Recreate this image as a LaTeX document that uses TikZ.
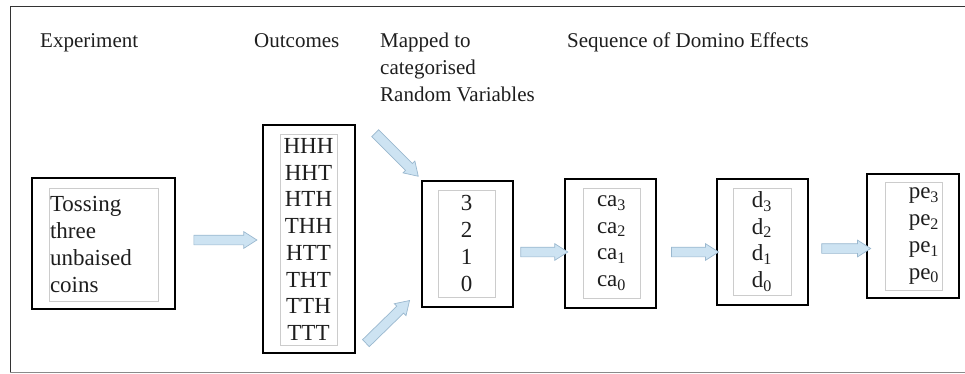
\documentclass[tikz,border=0pt]{standalone}
\usepackage{fontspec}
\setmainfont{Liberation Serif}
\usepackage{tikz}
\usetikzlibrary{arrows.meta,positioning,shapes.arrows,calc}
\usepackage{xcolor}
\definecolor{framegray}{HTML}{333333}
\definecolor{rulegray}{HTML}{8a8a8a}
\definecolor{innergray}{HTML}{cccccc}
\definecolor{arrowfill}{HTML}{cde3f2}
\definecolor{arrowedge}{HTML}{9ab8cf}
\definecolor{inkdark}{HTML}{1e1e1e}

\begin{document}
\begin{tikzpicture}[
  x=1pt,y=-1pt,
  heading/.style={anchor=base west,inner sep=0pt,align=left,text=inkdark,
    font=\fontsize{21}{27}\selectfont},
  outerbox/.style={rectangle,draw=black,line width=1.7pt,inner sep=0pt},
  innerbox/.style={rectangle,draw=innergray,line width=0.8pt,inner sep=0pt,
    text=inkdark,font=\fontsize{23}{26.7}\selectfont},
  blockarrow/.style={single arrow,draw=arrowedge,fill=arrowfill,line width=0.7pt,
    single arrow head extend=3.5pt,single arrow tip angle=65,
    single arrow head indent=0pt,inner xsep=0pt,inner ysep=4.5pt,sloped},
]
\useasboundingbox (0,0) rectangle (965,374);

% Page frame
\draw[framegray,line width=1pt] (965,7) -- (10,7) -- (10,372);
\draw[rulegray,line width=1pt] (10,372) -- (965,372);

% Headings
\node[heading] (hexp) at (40,48) {Experiment};
\node[heading] (hout) at (254,48) {Outcomes};
\node[heading] (hmap) at (380,102) {Mapped to\\categorised\\Random Variables};
\node[heading] (hseq) at (567,48) {Sequence of Domino Effects};

% Boxes
\node[outerbox,minimum width=143pt,minimum height=131pt] (expbox) at (103.5,243.5) {};
\node[innerbox,minimum width=109pt,minimum height=113pt,text width=107pt,align=left]
  (exptxt) at (103.5,244.5) {Tossing\\three\\unbaised\\coins};

\node[outerbox,minimum width=92pt,minimum height=228pt] (outbox) at (309,239) {};
\node[innerbox,minimum width=57pt,minimum height=211pt,text width=57pt,align=center]
  (outtxt) at (308.5,239.5) {HHH\\HHT\\HTH\\THH\\HTT\\THT\\TTH\\TTT};

\node[outerbox,minimum width=91pt,minimum height=126pt] (rvbox) at (467.5,244) {};
\node[innerbox,minimum width=57pt,minimum height=107pt,text width=57pt,align=center]
  (rvtxt) at (466.5,243.5) {3\\2\\1\\0};

\node[outerbox,minimum width=91pt,minimum height=129pt] (cabox) at (610.5,243.5) {};
\node[innerbox,minimum width=57pt,minimum height=110pt,text width=57pt,align=center]
  (catxt) at (611.5,243) {ca\textsubscript{3}\\ca\textsubscript{2}\\ca\textsubscript{1}\\ca\textsubscript{0}};

\node[outerbox,minimum width=91pt,minimum height=126pt] (dbox) at (762.5,242) {};
\node[innerbox,minimum width=58pt,minimum height=107pt,text width=58pt,align=center]
  (dtxt) at (762,241.5) {d\textsubscript{3}\\d\textsubscript{2}\\d\textsubscript{1}\\d\textsubscript{0}};

\node[outerbox,minimum width=92pt,minimum height=124pt] (pebox) at (913,236) {};
\node[innerbox,minimum width=57pt,minimum height=108pt,text width=51pt,align=right]
  (petxt) at (913.5,236) {pe\textsubscript{3}\\pe\textsubscript{2}\\pe\textsubscript{1}\\pe\textsubscript{0}};

% Block arrows
\path ([yshift=3.5pt]expbox.east) -- node[blockarrow,pos=0.53,minimum height=63pt]{} ([yshift=-1pt]outbox.west);
\path ([yshift=-8pt]rvbox.east) -- node[blockarrow,pos=0.53,minimum height=47pt]{} ([yshift=-8.5pt]cabox.west);
\path ([yshift=-8.5pt]cabox.east) -- node[blockarrow,pos=0.58,minimum height=47pt]{} ([yshift=-10pt]dbox.west);
\path ([yshift=-6.5pt]dbox.east) -- node[blockarrow,pos=0.585,minimum height=49pt]{} ([yshift=-12.5pt]pebox.west);

% Diagonal arrows into the random variables
\coordinate (uptail) at (372,130);
\coordinate (uptip) at (416,174);
\coordinate (lowtail) at (363,346);
\coordinate (lowtip) at (407,303);
\path (uptail) -- node[blockarrow,minimum height=61pt]{} (uptip);
\path (lowtail) -- node[blockarrow,minimum height=61pt]{} (lowtip);

\end{tikzpicture}
\end{document}
